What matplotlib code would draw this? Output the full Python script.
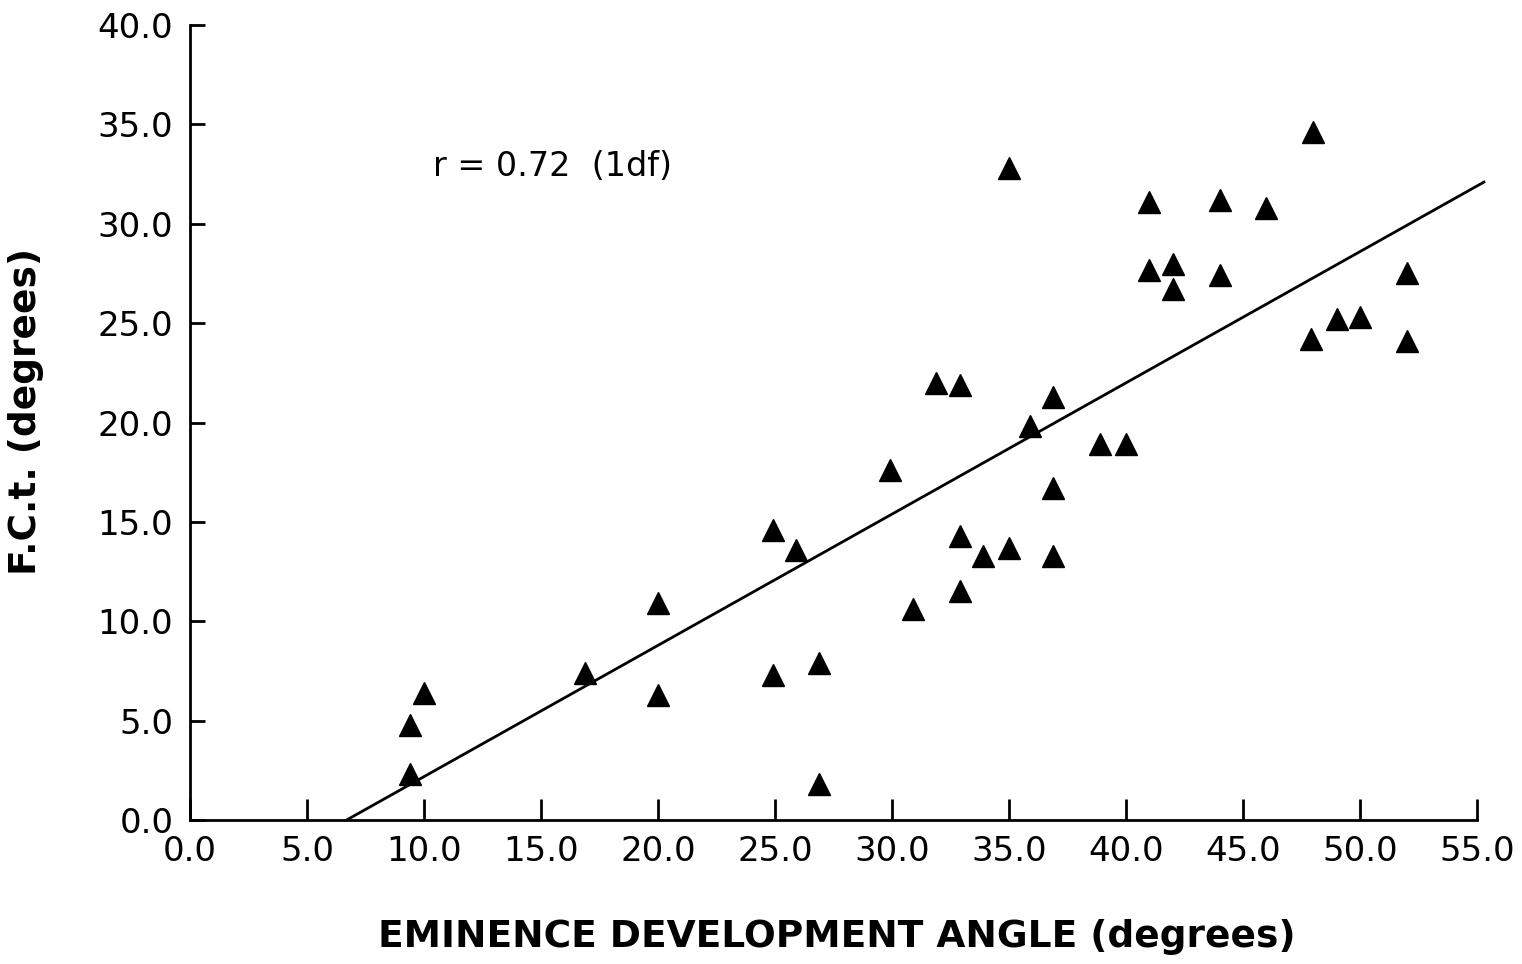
import numpy as np
import matplotlib
matplotlib.use("Agg")
import matplotlib.pyplot as plt

# eminence development angle (deg) vs F.C.t. (deg)
eda = [9.4, 9.4, 10.0, 16.9, 20.0, 20.0, 24.9, 24.9, 25.9, 26.9,
       26.9, 29.9, 30.9, 31.9, 32.9, 32.9, 32.9, 33.9, 35.0, 35.0,
       35.9, 36.9, 36.9, 36.9, 38.9, 40.0, 41.0, 41.0, 42.0, 42.0,
       44.0, 44.0, 46.0, 48.0, 47.9, 49.0, 50.0, 52.0, 52.0]
fct = [4.8, 2.3, 6.4, 7.4, 10.9, 6.3, 14.6, 7.3, 13.6, 7.9,
       1.8, 17.6, 10.6, 22.0, 21.9, 14.3, 11.5, 13.3, 13.7, 32.8,
       19.8, 21.3, 16.7, 13.3, 18.9, 18.9, 31.1, 27.7, 28.0, 26.7,
       31.2, 27.4, 30.8, 34.6, 24.2, 25.2, 25.3, 27.5, 24.1]

# regression line end points
line_x = [6.7, 55.3]
line_y = [0.0, 32.1]

xticks = np.arange(0, 55.1, 5)
yticks = np.arange(0, 40.1, 5)

fig = plt.figure(figsize=(15.22, 9.64), dpi=100)
ax = fig.add_axes([0.1248, 0.1494, 0.8456, 0.8246])

ax.plot(eda, fct, linestyle='none', marker='^', ms=16, color='black', clip_on=False)
ax.plot(line_x, line_y, color='black', lw=2, clip_on=False)

ax.set_xlim(0, 55)
ax.set_ylim(0, 40)
ax.set_xticks(xticks)
ax.set_yticks(yticks)
ax.set_xticklabels(["%.1f" % v for v in xticks], fontsize=24.5)
ax.set_yticklabels(["%.1f" % v for v in yticks], fontsize=24.5)
ax.tick_params(axis='x', direction='in', length=15, width=2, pad=11)
ax.tick_params(axis='y', direction='in', length=11, width=2, pad=12)

for s in ['top', 'right']:
    ax.spines[s].set_visible(False)
for s in ['left', 'bottom']:
    ax.spines[s].set_linewidth(2)

ax.text(10.4, 32.9, "r = 0.72  (1df)", fontsize=24, va='center', ha='left')

fig.text(0.55, 0.028, "EMINENCE DEVELOPMENT ANGLE (degrees)", fontsize=27,
         fontweight='bold', ha='center', va='center')
fig.text(0.017, 0.573, "F.C.t. (degrees)", fontsize=27, fontweight='bold',
         rotation=90, ha='center', va='center')

plt.savefig("out.png", dpi=100)
